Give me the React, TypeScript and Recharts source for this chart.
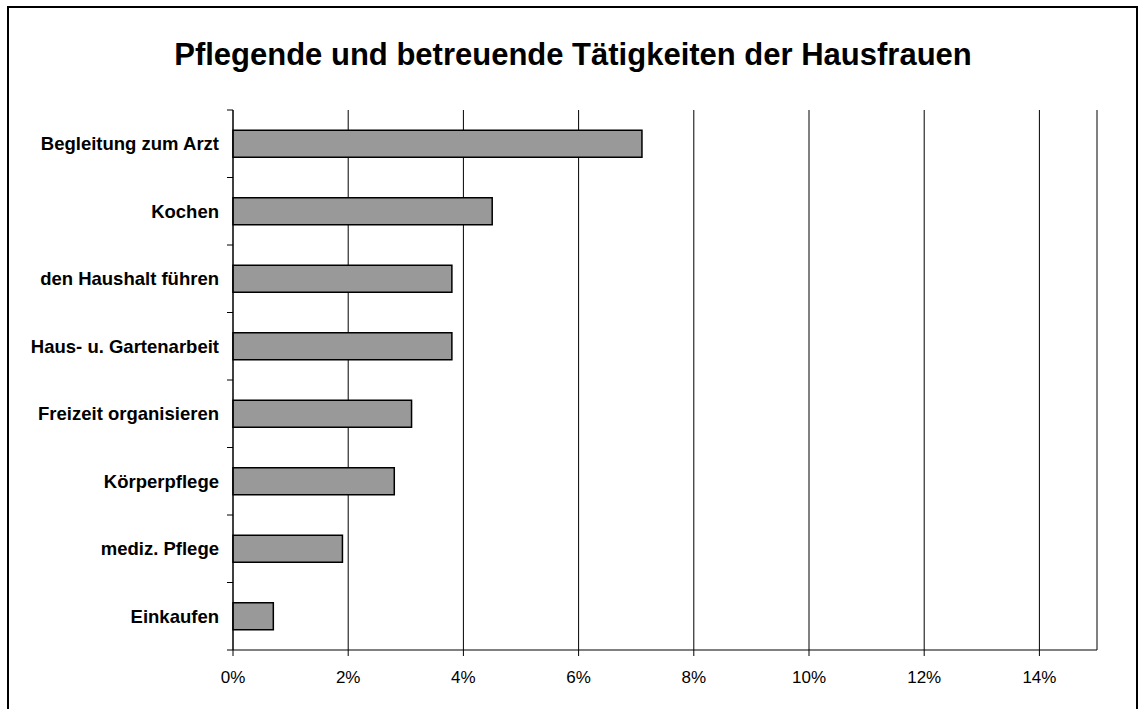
import { BarChart, Bar, XAxis, YAxis, CartesianGrid, ReferenceLine } from "recharts";

const categories = [
  "Begleitung zum Arzt",
  "Kochen",
  "den Haushalt führen",
  "Haus- u. Gartenarbeit",
  "Freizeit organisieren",
  "Körperpflege",
  "mediz. Pflege",
  "Einkaufen",
];
const values = [7.1, 4.5, 3.8, 3.8, 3.1, 2.8, 1.9, 0.7];
const xTicks = [0, 2, 4, 6, 8, 10, 12, 14];

const data = categories.map((name, i) => ({ name, value: values[i] }));

const AXIS_X = 224;
const HALF_BAND = 540 / categories.length / 2;

function CategoryTick(props: any) {
  const { y, payload, index } = props;
  return (
    <g>
      <text
        x={AXIS_X - 14}
        y={y}
        textAnchor="end"
        dominantBaseline="central"
        fontFamily="Arial, 'Liberation Sans', sans-serif"
        fontWeight="bold"
        fontSize={18.5}
        fill="#000"
      >
        {payload.value}
      </text>
      <line x1={AXIS_X - 6} x2={AXIS_X} y1={y + HALF_BAND} y2={y + HALF_BAND} stroke="#000" />
      {index === 0 && (
        <line x1={AXIS_X - 6} x2={AXIS_X} y1={y - HALF_BAND} y2={y - HALF_BAND} stroke="#000" />
      )}
    </g>
  );
}

export default function App() {
  return (
    <div
      style={{
        position: "absolute",
        left: 7,
        top: 6,
        width: 1131,
        height: 703,
        border: "2px solid #000",
        borderBottom: "none",
        boxSizing: "border-box",
        background: "#fff",
      }}
    >
      <div
        style={{
          position: "absolute",
          left: 0,
          top: 30,
          width: 1128,
          textAlign: "center",
          fontFamily: "Arial, 'Liberation Sans', sans-serif",
          fontWeight: "bold",
          fontSize: 31,
          lineHeight: "34px",
          color: "#000",
        }}
      >
        Pflegende und betreuende Tätigkeiten der Hausfrauen
      </div>
      <div style={{ position: "absolute", left: 0, top: 0 }}>
        <BarChart
          width={1120}
          height={700}
          data={data}
          layout="vertical"
          barCategoryGap="30%"
          margin={{ top: 102, right: 32, bottom: 0, left: 0 }}
        >
          <CartesianGrid horizontal={false} vertical stroke="#000" />
          <XAxis
            type="number"
            domain={[0, 15]}
            ticks={xTicks}
            tickFormatter={(v) => `${v}%`}
            height={58}
            tickSize={6}
            tickMargin={15}
            axisLine={{ stroke: "#000" }}
            tickLine={{ stroke: "#000" }}
            tick={{ fill: "#000", fontSize: 17, fontFamily: "Arial, 'Liberation Sans', sans-serif" }}
            interval={0}
          />
          <XAxis
            xAxisId="top"
            orientation="top"
            type="number"
            domain={[0, 15]}
            height={0}
            tick={false}
            tickLine={false}
            axisLine={{ stroke: "#000" }}
          />
          <YAxis
            type="category"
            dataKey="name"
            width={AXIS_X}
            axisLine={{ stroke: "#000" }}
            tickLine={false}
            tick={<CategoryTick />}
            interval={0}
          />
          <ReferenceLine x={15} stroke="#808080" />
          <Bar dataKey="value" fill="#999999" stroke="#000" strokeWidth={1.5} isAnimationActive={false} />
        </BarChart>
      </div>
    </div>
  );
}
